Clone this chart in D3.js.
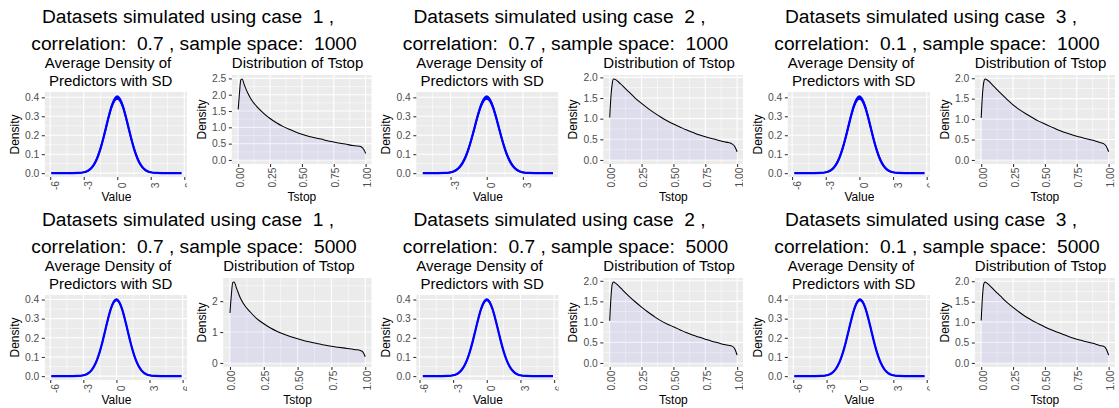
<!DOCTYPE html>
<html><head><meta charset="utf-8">
<script src="https://cdn.jsdelivr.net/npm/d3@7"></script>
<style>
body{margin:0;background:#fff;}
svg text{font-family:"Liberation Sans",Arial,Helvetica,sans-serif;white-space:pre;}
</style></head><body>
<svg id="c" width="1119" height="408"></svg>
<script>
// ---------- data ----------
const cases = [1, 2, 3];
const correlations = ["0.7", "0.7", "0.1"];
const sampleSpaces = [1000, 5000];

// average density of predictors (Value axis)
const valueX = [-6,-5.5,-5,-4.5,-4,-3.5,-3,-2.75,-2.5,-2.25,-2,-1.75,-1.5,-1.25,-1,-0.75,-0.5,-0.25,0,0.25,0.5,0.75,1,1.25,1.5,1.75,2,2.25,2.5,2.75,3,3.5,4,4.5,5,5.5,6];
const meanDensity = [0,0,0,0,0.0001,0.0009,0.0044,0.0091,0.0175,0.0317,0.054,0.0863,0.1295,0.1826,0.242,0.3011,0.3521,0.3867,0.3989,0.3867,0.3521,0.3011,0.242,0.1826,0.1295,0.0863,0.054,0.0317,0.0175,0.0091,0.0044,0.0009,0.0001,0,0,0,0];
const sdDensity1000 = [0,0,0,0,0.0002,0.0006,0.0012,0.0018,0.0025,0.0033,0.0042,0.005,0.0057,0.0062,0.0065,0.0068,0.0074,0.0082,0.0088,0.0082,0.0074,0.0068,0.0065,0.0062,0.0057,0.005,0.0042,0.0033,0.0025,0.0018,0.0012,0.0006,0.0002,0,0,0,0];
const sdDensity5000 = [0,0,0,0,0.0001,0.0003,0.0006,0.0009,0.0012,0.0016,0.002,0.0024,0.0027,0.003,0.0032,0.0034,0.0037,0.0041,0.0044,0.0041,0.0037,0.0034,0.0032,0.003,0.0027,0.0024,0.002,0.0016,0.0012,0.0009,0.0006,0.0003,0.0001,0,0,0,0];
// observed range of values per panel (row 1000, row 5000)
const valueMin1000 = [-5.9, -5.3, -5.8];
const valueMax1000 = [5.75, 5.5, 5.8];
const valueMin5000 = [-5.9, -5.7, -5.9];
const valueMax5000 = [5.9, 5.9, 5.8];
const valueTicks = [-6, -3, 0, 3, 6];
const densityTicks = [0, 0.1, 0.2, 0.3, 0.4];
const densityTickLabels = ["0.0", "0.1", "0.2", "0.3", "0.4"];

// distribution of Tstop
const tstopX = [0,0.01,0.02,0.03,0.05,0.075,0.1,0.15,0.2,0.25,0.3,0.35,0.4,0.45,0.5,0.55,0.6,0.65,0.7,0.75,0.8,0.85,0.9,0.93,0.96,0.98,0.99,1];
const tstopCase1n1000 = [1.55,2.05,2.45,2.48,2.28,2.05,1.87,1.62,1.43,1.27,1.14,1.03,0.94,0.86,0.79,0.73,0.68,0.64,0.59,0.55,0.51,0.48,0.44,0.43,0.41,0.35,0.29,0.2];
const tstopCase2n1000 = [1.03,1.55,1.85,1.96,1.94,1.87,1.8,1.65,1.5,1.37,1.25,1.14,1.04,0.95,0.87,0.8,0.73,0.67,0.61,0.56,0.52,0.48,0.44,0.42,0.39,0.33,0.27,0.2];
const tstopCase3n1000 = [1.03,1.6,1.9,1.98,1.95,1.88,1.8,1.64,1.49,1.35,1.23,1.13,1.04,0.95,0.88,0.81,0.74,0.68,0.63,0.58,0.54,0.5,0.46,0.43,0.4,0.34,0.28,0.2];
const tstopCase1n5000 = [1.62,2.2,2.6,2.62,2.4,2.12,1.92,1.65,1.43,1.27,1.13,1.02,0.93,0.85,0.78,0.72,0.67,0.62,0.58,0.54,0.51,0.48,0.45,0.43,0.41,0.37,0.3,0.2];
const tstopCase2n5000 = [1.03,1.6,1.92,1.97,1.93,1.86,1.78,1.63,1.49,1.36,1.24,1.13,1.03,0.95,0.88,0.81,0.74,0.68,0.63,0.58,0.53,0.49,0.45,0.43,0.41,0.35,0.28,0.19];
const tstopCase3n5000 = [1.04,1.62,1.93,1.98,1.94,1.87,1.79,1.64,1.49,1.36,1.24,1.13,1.04,0.96,0.88,0.81,0.75,0.69,0.63,0.58,0.54,0.5,0.46,0.43,0.41,0.35,0.28,0.19];
const tstopTicks = [0, 0.25, 0.5, 0.75, 1];
const tstopTickLabels = ["0.00", "0.25", "0.50", "0.75", "1.00"];
const tstopDensTicksHalf = [0, 0.5, 1, 1.5, 2, 2.5];
const tstopDensLabelsHalf = ["0.0", "0.5", "1.0", "1.5", "2.0", "2.5"];
const tstopDensTicksUnit = [0, 1, 2];
const tstopDensLabelsUnit = ["0", "1", "2"];

// ---------- drawing ----------
const svg = d3.select("#c");
svg.append("rect").attr("width", 1119).attr("height", 408).attr("fill", "#fff");
const TICK_FS = 10.3, AXT_FS = 12, TITLE_FS = 15, MAIN_FS = 19.2;

function measure(txt, size) {
  const t = svg.append("text").attr("font-size", size).text(txt);
  const w = t.node().getComputedTextLength();
  t.remove();
  return w;
}

function minorBreaks(major, dom) {
  const step = major[1] - major[0];
  const ext = [major[0] - step, ...major, major[major.length - 1] + step];
  const out = [];
  for (let i = 0; i < ext.length - 1; i++) {
    const m = (ext[i] + ext[i + 1]) / 2;
    if (m >= dom[0] && m <= dom[1]) out.push(m);
  }
  return out;
}

function expand(lo, hi) { const d = (hi - lo) * 0.05; return [lo - d, hi + d]; }

function drawPanel(opt) {
  const g = svg.append("g");
  g.append("rect").attr("x", opt.plotX).attr("y", opt.plotY).attr("width", opt.plotW).attr("height", opt.plotH).attr("fill", "#fff");
  const yLabW = d3.max(opt.yLabels, l => measure(l, TICK_FS));
  const left = opt.plotX + 30.5 + yLabW;
  const right = opt.panelRight, top = opt.panelTop, bottom = opt.panelBottom;
  const xs = d3.scaleLinear().domain(opt.xDom).range([left, right]);
  const ys = d3.scaleLinear().domain(opt.yDom).range([bottom, top]);
  g.append("rect").attr("x", left).attr("y", top).attr("width", right - left).attr("height", bottom - top).attr("fill", "#EBEBEB");
  const xMaj = opt.xTicks.filter(v => v >= opt.xDom[0] && v <= opt.xDom[1]);
  const yMaj = opt.yTicks.filter(v => v >= opt.yDom[0] && v <= opt.yDom[1]);
  const grid = g.append("g");
  minorBreaks(opt.xTicks, opt.xDom).forEach(v => grid.append("line").attr("x1", xs(v)).attr("x2", xs(v)).attr("y1", top).attr("y2", bottom).attr("stroke", "#fff").attr("stroke-width", 0.55));
  minorBreaks(opt.yTicks, opt.yDom).forEach(v => grid.append("line").attr("y1", ys(v)).attr("y2", ys(v)).attr("x1", left).attr("x2", right).attr("stroke", "#fff").attr("stroke-width", 0.55));
  xMaj.forEach(v => grid.append("line").attr("x1", xs(v)).attr("x2", xs(v)).attr("y1", top).attr("y2", bottom).attr("stroke", "#fff").attr("stroke-width", 1.1));
  yMaj.forEach(v => grid.append("line").attr("y1", ys(v)).attr("y2", ys(v)).attr("x1", left).attr("x2", right).attr("stroke", "#fff").attr("stroke-width", 1.1));

  opt.draw(g, xs, ys);

  const yLabelMap = new Map(opt.yTicks.map((v, i) => [v, opt.yLabels[i]]));
  const ya = g.append("g").attr("transform", `translate(${left},0)`)
    .call(d3.axisLeft(ys).tickValues(yMaj).tickSize(3).tickPadding(2.5).tickFormat(v => yLabelMap.get(v)));
  ya.select(".domain").remove();
  ya.selectAll("line").attr("stroke", "#333333").attr("stroke-width", 1.07);
  ya.selectAll("text").attr("fill", "#4D4D4D").attr("font-size", TICK_FS).attr("font-family", null);

  const xLabelMap = new Map(opt.xTicks.map((v, i) => [v, opt.xLabels[i]]));
  const xa = g.append("g").attr("transform", `translate(0,${bottom})`)
    .call(d3.axisBottom(xs).tickValues(xMaj).tickSize(3).tickFormat(v => xLabelMap.get(v)));
  xa.select(".domain").remove();
  xa.selectAll("line").attr("stroke", "#333333").attr("stroke-width", 1.07);
  xa.selectAll("text").attr("fill", "#4D4D4D").attr("font-size", TICK_FS).attr("font-family", null)
    .attr("y", null).attr("dy", null).attr("text-anchor", "middle").attr("dominant-baseline", "central")
    .attr("transform", `translate(${opt.xLabDx},${opt.xLabCy}) rotate(-90)`);

  g.append("text").attr("x", (left + right) / 2).attr("y", opt.xTitleY).attr("text-anchor", "middle")
    .attr("font-size", AXT_FS).attr("fill", "#000").text(opt.xTitle);
  g.append("text").attr("transform", `translate(${opt.plotX + 14.5},${(top + bottom) / 2}) rotate(-90)`)
    .attr("text-anchor", "middle").attr("dominant-baseline", "central")
    .attr("font-size", AXT_FS).attr("fill", "#000").text("Density");
  opt.title.forEach((line, i) => {
    g.append("text").attr("x", left).attr("y", opt.titleY + i * 17.5).attr("font-size", TITLE_FS).attr("fill", "#000").text(line);
  });
}

const tstopSeries = [
  [tstopCase1n1000, tstopCase2n1000, tstopCase3n1000],
  [tstopCase1n5000, tstopCase2n5000, tstopCase3n5000]
];
const valueMins = [valueMin1000, valueMin5000];
const valueMaxs = [valueMax1000, valueMax5000];
const sdSeries = [sdDensity1000, sdDensity5000];

const GW = 371.5, RH = 203;
sampleSpaces.forEach((n, r) => {
  cases.forEach((cs, c) => {
    const gx = c * GW, ry = r * RH;
    const tg = svg.append("g");
    tg.append("text").attr("x", gx + 188).attr("y", ry + 23).attr("text-anchor", "middle").attr("font-size", MAIN_FS).attr("fill", "#000")
      .text(`Datasets simulated using case  ${cs} ,`);
    tg.append("text").attr("x", gx + 194).attr("y", ry + 50).attr("text-anchor", "middle").attr("font-size", MAIN_FS).attr("fill", "#000")
      .text(`correlation:  ${correlations[c]} , sample space:  ${n}`);

    const vmin = valueMins[r][c], vmax = valueMaxs[r][c];
    const sd = sdSeries[r];
    const pts = valueX.map((x, i) => ({ x, m: meanDensity[i], s: sd[i] })).filter(p => p.x > vmin && p.x < vmax);
    pts.unshift({ x: vmin, m: 0, s: 0 });
    pts.push({ x: vmax, m: 0, s: 0 });
    const ymaxD = d3.max(pts, p => p.m + p.s);
    drawPanel({
      plotX: gx, plotY: ry + 56, plotW: 187, plotH: 148,
      panelRight: gx + 188, panelTop: ry + 92, panelBottom: ry + 177,
      xDom: expand(vmin, vmax), yDom: expand(0, ymaxD),
      xTicks: valueTicks, xLabels: valueTicks.map(String),
      yTicks: densityTicks, yLabels: densityTickLabels,
      xLabDx: 4.5, xLabCy: 8.5, xTitleY: ry + 201, xTitle: "Value",
      title: ["Average Density of ", " Predictors with SD"], titleY: ry + 68,
      draw: (g, xs, ys) => {
        g.append("path").datum(pts)
          .attr("d", d3.area().x(p => xs(p.x)).y0(p => ys(p.m - p.s)).y1(p => ys(p.m + p.s)).curve(d3.curveMonotoneX))
          .attr("fill", "#0000FF").attr("stroke", "#0000FF").attr("stroke-width", 1.2);
        g.append("path").datum(pts)
          .attr("d", d3.line().x(p => xs(p.x)).y(p => ys(p.m)).curve(d3.curveMonotoneX))
          .attr("fill", "none").attr("stroke", "#0000FF").attr("stroke-width", 2.2);
      }
    });

    const ser = tstopSeries[r][c];
    const tp = tstopX.map((x, i) => ({ x, y: ser[i] }));
    const ymaxT = d3.max(ser);
    const unitTicks = ymaxT > 2.55;
    const yT = unitTicks ? tstopDensTicksUnit : tstopDensTicksHalf;
    const yL = unitTicks ? tstopDensLabelsUnit : tstopDensLabelsHalf;
    drawPanel({
      plotX: gx + 187, plotY: ry + 56, plotW: 186, plotH: 148,
      panelRight: gx + 372, panelTop: ry + 75, panelBottom: ry + 164,
      xDom: expand(0, 1), yDom: expand(0, ymaxT),
      xTicks: tstopTicks, xLabels: tstopTickLabels,
      yTicks: yT, yLabels: yL,
      xLabDx: 1.5, xLabCy: 13.5, xTitleY: ry + 201, xTitle: "Tstop",
      title: ["Distribution of Tstop"], titleY: ry + 68,
      draw: (g, xs, ys) => {
        g.append("path").datum(tp)
          .attr("d", d3.area().x(p => xs(p.x)).y0(ys(0)).y1(p => ys(p.y)).curve(d3.curveMonotoneX))
          .attr("fill", "#0000FF").attr("fill-opacity", 0.06);
        g.append("path").datum(tp)
          .attr("d", d3.line().x(p => xs(p.x)).y(p => ys(p.y)).curve(d3.curveMonotoneX))
          .attr("fill", "none").attr("stroke", "#000").attr("stroke-width", 1.05);
      }
    });
  });
});
</script>
</body></html>
